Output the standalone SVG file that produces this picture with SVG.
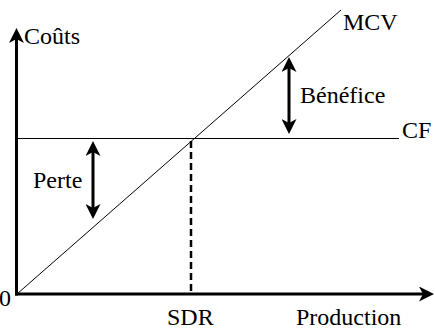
<svg xmlns="http://www.w3.org/2000/svg" width="435" height="330" viewBox="0 0 435 330">
<style>
.lbl{font-family:'Liberation Serif','Times New Roman',serif;font-size:24px;fill:#000}
.axis{stroke:#000;stroke-width:3;fill:none}
.thin{stroke:#000;stroke-width:1;fill:none}
.dbl{stroke:#000;stroke-width:3;fill:none}
.dash{stroke:#000;stroke-width:2.5;stroke-dasharray:7,4;fill:none}
</style>
<defs>
<marker id="ah" viewBox="0 0 15 15" refX="4" refY="7.5" markerWidth="15" markerHeight="15" markerUnits="userSpaceOnUse" orient="auto-start-reverse">
<path d="M0,0 L15,7.5 L0,15 L4,7.5 Z" fill="#000"/>
</marker>
</defs>
<g id="connectors">
<line id="y-axis" class="axis" x1="16.5" y1="295.5" x2="16.5" y2="39" marker-end="url(#ah)"/>
<line id="x-axis" class="axis" x1="15" y1="294" x2="423" y2="294" marker-end="url(#ah)"/>
<line id="mcv" class="thin" x1="17" y1="294" x2="341" y2="10"/>
<line id="cf" class="thin" x1="17" y1="138.5" x2="399" y2="138.5"/>
<line id="sdr" class="dash" x1="191" y1="141" x2="191" y2="293"/>
<line id="benefice" class="dbl" x1="289" y1="68" x2="289" y2="123" marker-start="url(#ah)" marker-end="url(#ah)"/>
<line id="perte" class="dbl" x1="93" y1="152" x2="93" y2="208" marker-start="url(#ah)" marker-end="url(#ah)"/>
</g>
<g id="labels">
<text class="lbl" x="24" y="44">Coûts</text>
<text class="lbl" x="343" y="30">MCV</text>
<text class="lbl" x="300" y="103">Bénéfice</text>
<text class="lbl" x="402" y="138">CF</text>
<text class="lbl" x="33" y="188">Perte</text>
<text class="lbl" x="-1" y="306">0</text>
<text class="lbl" x="167" y="325">SDR</text>
<text class="lbl" x="296" y="325">Production</text>
</g>
</svg>
